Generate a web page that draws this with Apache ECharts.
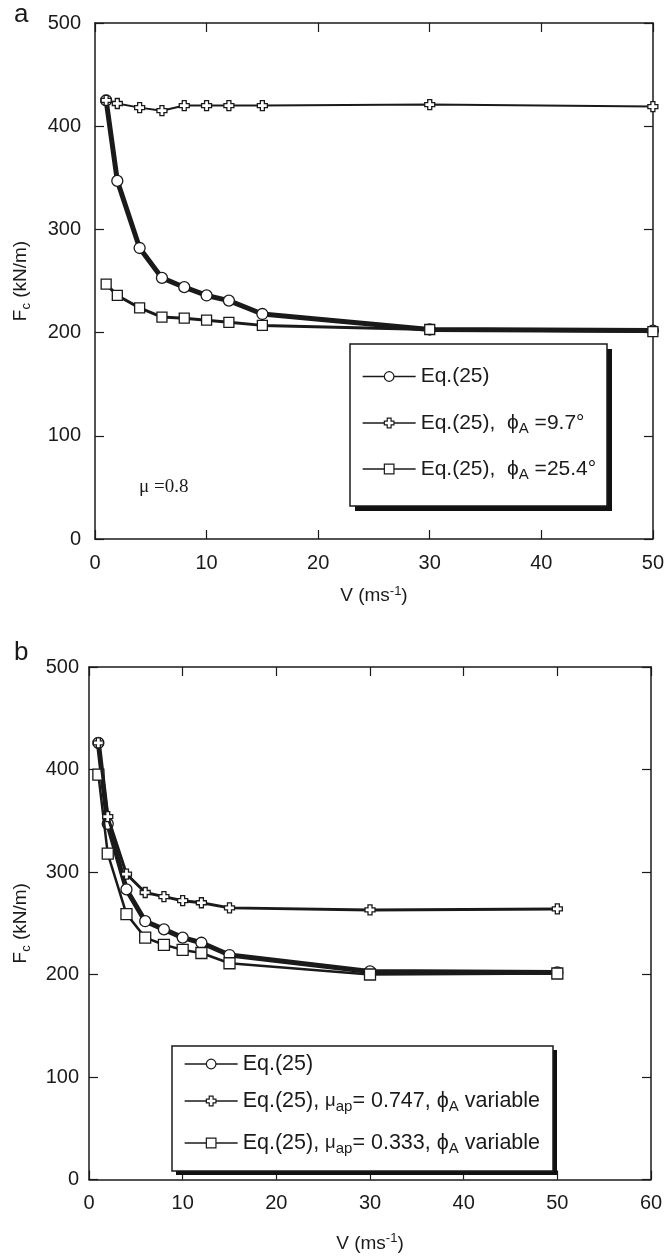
<!DOCTYPE html>
<html><head><meta charset="utf-8">
<script src="https://cdn.jsdelivr.net/npm/echarts@6/dist/echarts.min.js"></script>
<style>html,body{margin:0;padding:0;background:#fff}#c{width:667px;height:1256px}</style>
</head><body><div id="c"></div>
<script>
// ---- data ----
const speedA = [1, 2, 4, 6, 8, 10, 12, 15, 30, 50];
const eq25A = [425, 347, 282, 253, 244, 236, 231, 218, 203, 202];
const phi97A = [425, 422, 418, 415, 420, 420, 420, 420, 421, 419];
const phi254A = [247, 236, 224, 215, 214, 212, 210, 207, 203, 201];

const speedB = [1, 2, 4, 6, 8, 10, 12, 15, 30, 50];
const eq25B = [426, 347, 283, 252, 244, 236, 231, 219, 203, 202];
const mu747B = [426, 354, 298, 280, 276, 272, 270, 265, 263, 264];
const mu333B = [395, 318, 259, 236, 229, 224, 221, 211, 200, 201];

const yTicks = [0, 100, 200, 300, 400, 500];
const xMaxA = 50, xMaxB = 60;

const legendText = {
  a1: '{t|Eq.(25)}',
  a2: '{t|Eq.(25),  }{t|ϕ}{sub|A}{t| =9.7°}',
  a3: '{t|Eq.(25),  }{t|ϕ}{sub|A}{t| =25.4°}',
  b1: '{t|Eq.(25)}',
  b2: '{t|Eq.(25), }{m|μ}{sub|ap}{t|= 0.747, }{t|ϕ}{sub|A}{t| variable}',
  b3: '{t|Eq.(25), }{m|μ}{sub|ap}{t|= 0.333, }{t|ϕ}{sub|A}{t| variable}'
};

// ---- styling ----
const FONT = '"Liberation Sans", Arial, Helvetica, sans-serif';
const INK = '#1a1a1a';
const PLUS = 'path://M3,0L7,0L7,3L10,3L10,7L7,7L7,10L3,10L3,7L0,7L0,3L3,3Z';
function legendRich(fs) {
  return {
    t: {fontFamily: FONT, fontSize: fs, color: INK, lineHeight: fs + 5},
    m: {fontFamily: FONT, fontSize: fs - 3, color: INK, lineHeight: fs + 5},
    sub: {fontFamily: FONT, fontSize: Math.round(fs * 0.72), color: INK, lineHeight: Math.round(fs * 0.72), padding: [11, 0, 0, 0]}
  };
}
const nameRich = {
  t: {fontFamily: FONT, fontSize: 19, color: INK, lineHeight: 24},
  sub: {fontFamily: FONT, fontSize: 13, color: INK, lineHeight: 13, padding: [10, 0, 0, 0]},
  sup: {fontFamily: FONT, fontSize: 13, color: INK, lineHeight: 13, padding: [0, 0, 10, 0]}
};

function xAxes(gi, max, labelMargin, nameGap) {
  const base = {
    type: 'value', gridIndex: gi, min: 0, max: max, interval: 10,
    axisLine: {show: true, onZero: false, lineStyle: {color: INK, width: 1.5}},
    axisTick: {show: true, inside: true, length: 9, lineStyle: {color: INK, width: 1.2}},
    splitLine: {show: false}
  };
  return [
    Object.assign({}, base, {position: 'bottom',
      axisLabel: {show: true, color: INK, fontFamily: FONT, fontSize: 20, margin: labelMargin},
      name: '{t|V (ms}{sup|-1}{t|)}', nameLocation: 'middle', nameGap: nameGap,
      nameTextStyle: {rich: nameRich}}),
    Object.assign({}, base, {position: 'top', axisLabel: {show: false}})
  ];
}
function yAxes(gi, labelMargin, nameGap) {
  const base = {
    type: 'value', gridIndex: gi, min: 0, max: 500, interval: 100,
    axisLine: {show: true, onZero: false, lineStyle: {color: INK, width: 1.5}},
    axisTick: {show: true, inside: true, length: 9, lineStyle: {color: INK, width: 1.2}},
    splitLine: {show: false}
  };
  return [
    Object.assign({}, base, {position: 'left',
      axisLabel: {show: true, color: INK, fontFamily: FONT, fontSize: 20, margin: labelMargin,
        formatter: v => yTicks.indexOf(v) >= 0 ? String(v) : ''},
      name: '{t|F}{sub|c}{t| (kN/m)}', nameLocation: 'middle', nameGap: nameGap, nameRotate: 90,
      nameTextStyle: {rich: nameRich}}),
    Object.assign({}, base, {position: 'right', axisLabel: {show: false}})
  ];
}

function pairs(xs, ys) { return xs.map((x, i) => [x, ys[i]]); }

function series(name, xi, yi, xs, ys, symbol, size, lw, z) {
  return {
    name: name, type: 'line', xAxisIndex: xi, yAxisIndex: yi,
    data: pairs(xs, ys), symbol: symbol, symbolSize: size, showSymbol: true,
    lineStyle: {color: INK, width: lw}, z: z,
    itemStyle: {color: '#fff', borderColor: INK, borderWidth: 1.3, opacity: 1},
    emphasis: {disabled: true}, animation: false
  };
}

function legendItem(name, left, top, fs) {
  return {
    data: [name], left: left, top: top, orient: 'vertical', padding: 0,
    itemWidth: 53, itemHeight: 12, selectedMode: false,
    backgroundColor: 'transparent', borderWidth: 0,
    lineStyle: {width: 1.3, color: INK},
    itemStyle: {borderWidth: 1.2, borderColor: INK, color: '#fff'},
    formatter: n => legendText[n],
    textStyle: {rich: legendRich(fs)}
  };
}

const xa = xAxes(0, xMaxA, 14, 45), xb = xAxes(1, xMaxB, 14, 52);
const ya = yAxes(0, 14, 62), yb = yAxes(1, 10, 56);

function shadowBox(x, y, w, h, off) {
  return [
    {type: 'rect', shape: {x: x + off, y: y + off, width: w, height: h}, z: 1,
      style: {fill: '#111', stroke: null}},
    {type: 'rect', shape: {x: x, y: y, width: w, height: h}, z: 2,
      style: {fill: '#fff', stroke: INK, lineWidth: 1.5}}
  ];
}

const option = {
  backgroundColor: '#fff',
  animation: false,
  grid: [
    {left: 95, top: 23, width: 559, height: 516, show: false},
    {left: 89, top: 667, width: 562, height: 528, show: false}
  ],
  xAxis: [xa[0], xa[1], xb[0], xb[1]],
  yAxis: [ya[0], ya[1], yb[0], yb[1]],
  graphic: [].concat(
    shadowBox(350, 344, 257, 162, 5),
    shadowBox(172, 1046, 381, 125, 4),
    [
      {type: 'text', left: 14, top: 2, style: {text: 'a', font: '26px ' + FONT, fill: INK}},
      {type: 'text', left: 14, top: 640, style: {text: 'b', font: '26px ' + FONT, fill: INK}},
      {type: 'text', left: 139, top: 478, style: {text: 'μ =0.8', font: '19px "Liberation Serif", "Times New Roman", serif', fill: INK}}
    ]
  ),
  legend: [
    legendItem('a1', 362, 366, 21),
    legendItem('a2', 362, 410, 21),
    legendItem('a3', 362, 456, 21),
    legendItem('b1', 184, 1053, 21.5),
    legendItem('b2', 184, 1088, 21.5),
    legendItem('b3', 184, 1130, 21.5)
  ],
  series: [
    series('a1', 0, 0, speedA, eq25A, 'circle', 11, 5, 3),
    series('a3', 0, 0, speedA, phi254A, 'rect', 10, 3, 4),
    series('a2', 0, 0, speedA, phi97A, PLUS, 10, 2, 5),
    series('b1', 2, 2, speedB, eq25B, 'circle', 11, 5, 3),
    series('b3', 2, 2, speedB, mu333B, 'rect', 11, 2.5, 4),
    series('b2', 2, 2, speedB, mu747B, PLUS, 10, 3, 5)
  ]
};
const chart = echarts.init(document.getElementById('c'), null, {renderer: 'canvas'});
chart.setOption(option);
</script>
</body></html>
